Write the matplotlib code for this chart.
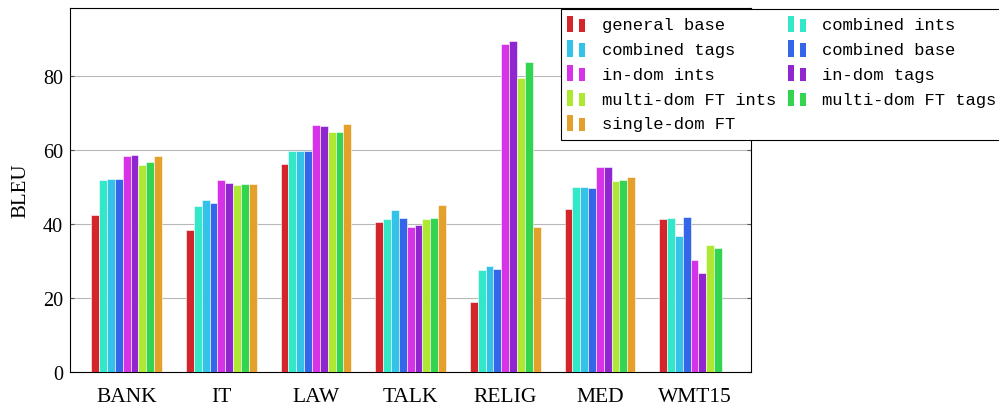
import numpy as np
import matplotlib
matplotlib.use('Agg')
import matplotlib.pyplot as plt
from matplotlib.patches import Rectangle
from matplotlib.legend_handler import HandlerBase

domains = ['BANK', 'IT', 'LAW', 'TALK', 'RELIG', 'MED', 'WMT15']

series = ['general base', 'combined ints', 'combined tags', 'combined base',
          'in-dom ints', 'in-dom tags', 'multi-dom FT ints', 'multi-dom FT tags',
          'single-dom FT']

general_base      = [42.4, 38.3, 56.2, 40.6, 19.0, 44.0, 41.4]
combined_ints     = [51.9, 44.8, 59.8, 41.4, 27.6, 50.1, 41.6]
combined_tags     = [52.1, 46.5, 59.8, 43.8, 28.8, 50.1, 36.9]
combined_base     = [52.2, 45.6, 59.8, 41.6, 27.8, 49.8, 41.8]
in_dom_ints       = [58.5, 51.9, 66.7, 39.3, 88.7, 55.4, 30.2]
in_dom_tags       = [58.7, 51.1, 66.5, 39.8, 89.5, 55.4, 26.8]
multi_dom_ints    = [56.1, 50.5, 64.9, 41.4, 79.5, 51.6, 34.3]
multi_dom_tags    = [56.9, 50.9, 64.9, 41.6, 83.7, 51.9, 33.5]
single_dom        = [58.3, 50.8, 67.0, 45.1, 39.1, 52.6, np.nan]

values = [general_base, combined_ints, combined_tags, combined_base,
          in_dom_ints, in_dom_tags, multi_dom_ints, multi_dom_tags, single_dom]

colors = ['#d4262a', '#33e8c8', '#33c2e8', '#3366e8', '#d633e8',
          '#8f26cf', '#aee833', '#33d450', '#e3a12b']


class TwoBars(HandlerBase):
    # pgfplots-style legend image: two little bars
    def create_artists(self, legend, orig, xd, yd, w, h, fontsize, trans):
        c = orig.get_facecolor()
        bw = w * 0.3
        r1 = Rectangle((xd - 2, yd - h * 0.2), bw, h * 1.35,
                       facecolor=c, edgecolor='none', transform=trans)
        r2 = Rectangle((xd - 2 + w * 0.6, yd - h * 0.2), bw, h * 1.1,
                       facecolor=c, edgecolor='none', transform=trans)
        return [r1, r2]


fig = plt.figure(figsize=(9.99, 4.1), dpi=100)
ax = fig.add_axes([0.070, 0.090, 0.682, 0.888])

x = np.arange(len(domains))
w = 0.083
bars = []
for i, (vals, c) in enumerate(zip(values, colors)):
    b = ax.bar(x + (i - 4) * w, vals, w, color=c, edgecolor='white',
               linewidth=0.4, zorder=3, label=series[i])
    bars.append(b)

ax.set_xlim(-0.6, 6.6)
ax.set_ylim(0, 98.4)
ax.set_yticks([0, 20, 40, 60, 80])
ax.set_xticks(x)
ax.set_xticklabels(domains, family='Liberation Serif', fontsize=15.5)
for t in ax.get_yticklabels():
    t.set_family('Liberation Serif')
    t.set_fontsize(14.5)
ax.set_ylabel('BLEU', family='Liberation Serif', fontsize=15, labelpad=9)
ax.yaxis.grid(True, color='#b8b8b8', linewidth=0.8, zorder=0)
ax.tick_params(direction='in', length=3, right=True, color='#555555')
ax.tick_params(axis='y', pad=5)
ax.tick_params(axis='x', length=0, pad=11)
for s in ax.spines.values():
    s.set_linewidth(0.8)

handles = [b.patches[0] for b in bars]
# legend order: row by row, two columns
order = [0, 2, 4, 6, 8, 1, 3, 5, 7]
leg = fig.legend([handles[k] for k in order], [series[k] for k in order],
                 ncol=2, loc='upper left', bbox_to_anchor=(0.5616, 0.976),
                 borderaxespad=0, handler_map={Rectangle: TwoBars()},
                 prop={'family': 'Liberation Mono', 'size': 12.3},
                 fancybox=False, framealpha=1, edgecolor='black',
                 handlelength=1.17, handletextpad=0.7, columnspacing=0.85,
                 labelspacing=0.57, borderpad=0.5)
leg.get_frame().set_linewidth(0.8)

fig.savefig('out.png', dpi=100)
